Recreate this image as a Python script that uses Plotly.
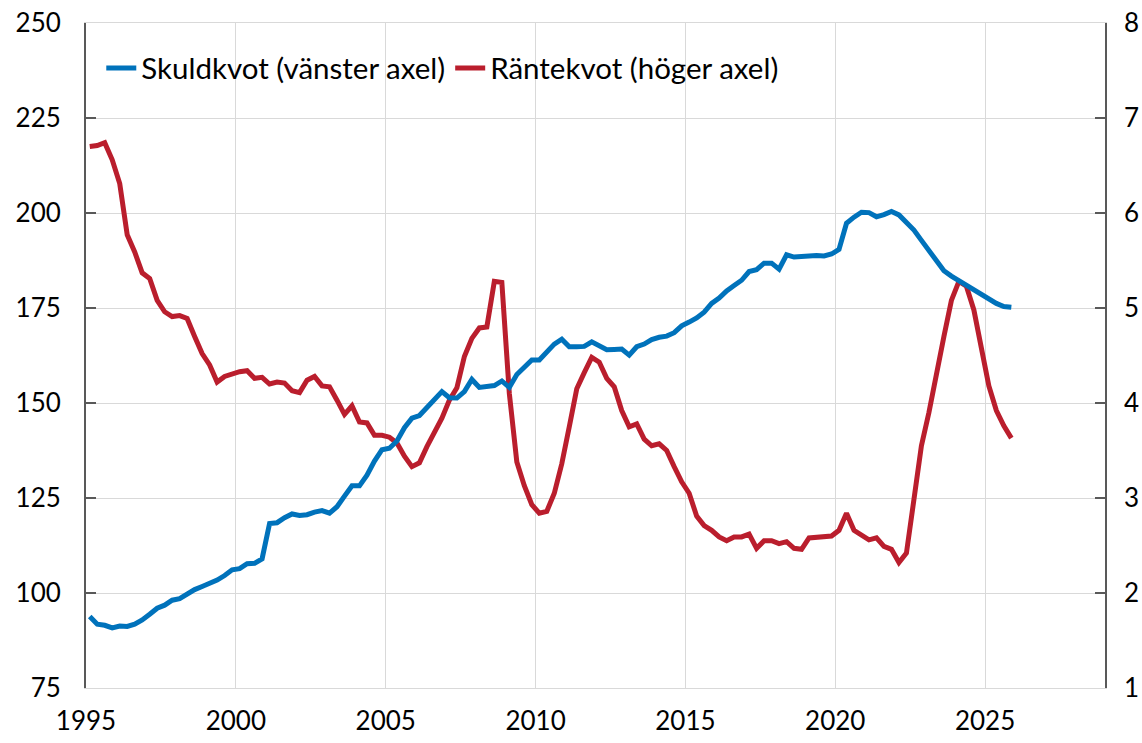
import plotly.graph_objects as go

# Quarterly observations, 1995Q1 .. 2025Q4
start_year = 1995
n_quarters = 124

skuldkvot = [
    93.8, 91.8, 91.5, 90.8, 91.3, 91.2, 91.8, 92.9, 94.4, 96.0, 96.8, 98.1,
    98.5, 99.8, 100.9, 101.7, 102.5, 103.4, 104.6, 106.1, 106.4, 107.7, 107.8, 109.0,
    118.3, 118.5, 119.8, 120.8, 120.4, 120.6, 121.3, 121.7, 121.0, 122.7, 125.5, 128.2,
    128.2, 131.0, 134.7, 137.7, 138.1, 140.0, 143.5, 146.0, 146.7, 148.8, 150.5, 153.0,
    151.4, 151.3, 153.0, 156.2, 154.1, 154.3, 154.6, 155.8, 154.1, 157.5, 159.2, 161.3,
    161.3, 163.6, 165.5, 166.8, 164.8, 164.8, 164.9, 166.1, 165.0, 164.0, 164.1, 164.2,
    162.6, 164.8, 165.5, 166.7, 167.3, 167.6, 168.5, 170.3, 171.3, 172.4, 173.9, 176.2,
    177.6, 179.5, 180.9, 182.3, 184.6, 185.1, 186.8, 186.8, 185.2, 189.0, 188.4, 188.6,
    188.7, 188.8, 188.7, 189.2, 190.4, 197.3, 198.9, 200.2, 200.1, 199.0, 199.6, 200.4,
    199.5, 197.5, 195.5, 192.8, 190.2, 187.5, 184.8, 183.4, 182.2, 180.9, 179.8, 178.8,
    177.4, 176.2, 175.4, 175.2,
]

rantekvot = [
    6.70, 6.71, 6.74, 6.56, 6.31, 5.77, 5.59, 5.37, 5.31, 5.08, 4.96, 4.91,
    4.92, 4.89, 4.70, 4.52, 4.40, 4.22, 4.28, 4.31, 4.33, 4.34, 4.26, 4.27,
    4.20, 4.22, 4.21, 4.13, 4.11, 4.24, 4.28, 4.18, 4.17, 4.03, 3.88, 3.97,
    3.80, 3.79, 3.66, 3.66, 3.64, 3.58, 3.44, 3.33, 3.37, 3.54, 3.70, 3.84,
    4.03, 4.16, 4.49, 4.68, 4.79, 4.80, 5.28, 5.27, 4.10, 3.38, 3.13, 2.93,
    2.84, 2.86, 3.05, 3.36, 3.75, 4.15, 4.32, 4.48, 4.43, 4.26, 4.17, 3.92,
    3.75, 3.78, 3.62, 3.55, 3.57, 3.50, 3.33, 3.17, 3.05, 2.81, 2.71, 2.66,
    2.59, 2.55, 2.59, 2.59, 2.62, 2.47, 2.55, 2.55, 2.52, 2.54, 2.47, 2.46,
    2.58, 2.59, 2.59, 2.60, 2.66, 2.84, 2.66, 2.61, 2.56, 2.58, 2.49, 2.46,
    2.32, 2.42, 2.95, 3.55, 3.90, 4.33, 4.70, 5.08, 5.28, 5.23, 4.98, 4.58,
    4.18, 3.92, 3.76, 3.63,
]

x_ticks = [1995, 2000, 2005, 2010, 2015, 2020, 2025]
left_ticks = [75, 100, 125, 150, 175, 200, 225, 250]
right_ticks = [1, 2, 3, 4, 5, 6, 7, 8]

# mid-quarter positions in decimal years
x = [start_year + (i + 0.5) / 4 for i in range(n_quarters)]

BLUE = "#0072BB"
RED = "#BA1E2D"
GRID = "#D9D9D9"
AXIS = "#595959"
FONT = "Lato"

fig = go.Figure()
fig.add_trace(go.Scatter(
    x=x, y=rantekvot, name="Räntekvot (höger axel)", mode="lines",
    line=dict(color=RED, width=5), yaxis="y"))
fig.add_trace(go.Scatter(
    x=x, y=skuldkvot, name="Skuldkvot (vänster axel)", mode="lines",
    line=dict(color=BLUE, width=5), yaxis="y2"))

fig.update_layout(
    width=1142, height=743,
    margin=dict(l=86, r=37, t=23, b=55, autoexpand=False),
    plot_bgcolor="white", paper_bgcolor="white",
    font=dict(family=FONT, size=26, color="black"),
    showlegend=True,
    legend=dict(orientation="h", x=0.015, xanchor="left", y=0.932, yanchor="middle",
                bgcolor="rgba(0,0,0,0)", traceorder="reversed",
                font=dict(family=FONT, size=29.5, color="black"),
                itemwidth=30, tracegroupgap=0),
    xaxis=dict(range=[1995, 2029], tickvals=x_ticks, ticktext=[str(v) for v in x_ticks],
               showgrid=True, gridcolor=GRID, gridwidth=1.3, zeroline=False,
               showline=True, linecolor=GRID, linewidth=1.3, mirror=True,
               ticks="", ticklabelstandoff=10, automargin=False),
    yaxis=dict(side="right", range=[1, 8], tickvals=right_ticks,
               showgrid=True, gridcolor=GRID, gridwidth=1.3, zeroline=False,
               showline=True, linecolor=AXIS, linewidth=1.5,
               ticks="inside", ticklen=10, tickcolor=AXIS, tickwidth=1.5,
               ticklabelstandoff=12, automargin=False),
    yaxis2=dict(side="left", overlaying="y", range=[75, 250], tickvals=left_ticks,
                showgrid=False, zeroline=False,
                showline=True, linecolor=AXIS, linewidth=2,
                ticks="inside", ticklen=10, tickcolor=AXIS, tickwidth=1.5,
                ticklabelstandoff=18, automargin=False),
)

fig.write_html(
    "out.html",
    config={"displayModeBar": False},
    post_script="document.body.style.margin='0';document.body.style.overflow='hidden';",
)
